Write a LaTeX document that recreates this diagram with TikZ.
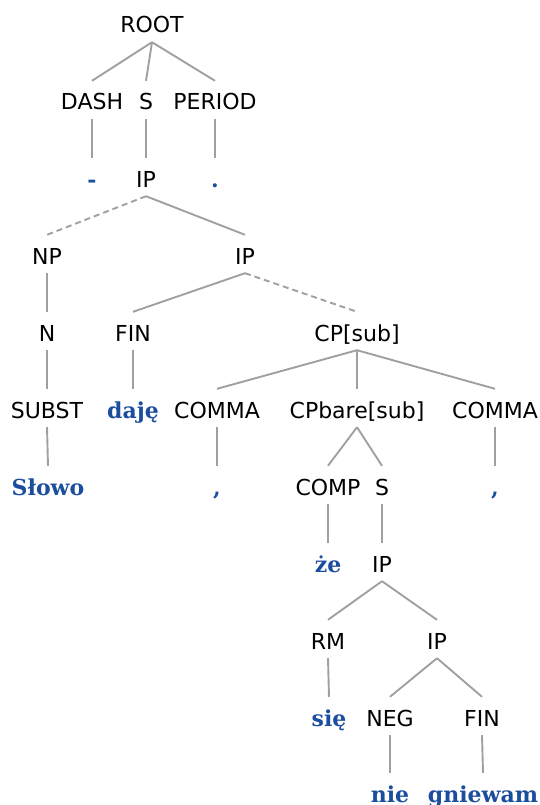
\documentclass[tikz,border=0pt]{standalone}
\usepackage{fontspec}
\usepackage{xcolor}
\usetikzlibrary{positioning}
\newfontfamily\catfont{DejaVu Sans}
\newfontfamily\wordfont{DejaVu Serif}
\definecolor{wordblue}{RGB}{28,78,158}
\definecolor{branchgray}{RGB}{160,160,160}

\begin{document}
\begin{tikzpicture}[
        x=1pt, y=-1pt,
        % Label styles
        catlabel/.style={inner sep=0pt, anchor=base, text height=29pt, text depth=9pt, font=\catfont\fontsize{22}{26}\selectfont},
        wordlabel/.style={catlabel, text=wordblue, font=\wordfont\bfseries\fontsize{22}{26}\selectfont},
        % Line styles
        branch/.style={draw=branchgray, line width=1.9pt},
        dashbranch/.style={branch, dash pattern=on 6pt off 4pt}
    ]
    \useasboundingbox (0,0) rectangle (540,805);

    % --- TOP LEVELS ---
    \node (root) [catlabel] at (152,33) {ROOT};
    \node (dash) [catlabel] at (92,110) {DASH};
    \node (s1) [catlabel] at (146,110) {S};
    \node (period) [catlabel] at (215,110) {PERIOD};
    \node (hyph) [wordlabel] at (92,187) {-};
    \node (ip1) [catlabel] at (146,187) {IP};
    \node (dot) [wordlabel] at (215,187) {.};

    % --- MAIN CLAUSE ---
    \node (np) [catlabel] at (47,264) {NP};
    \node (ip2) [catlabel] at (245,264) {IP};
    \node (n) [catlabel] at (47,341) {N};
    \node (fin1) [catlabel] at (133,341) {FIN};
    \node (cpsub) [catlabel] at (357,341) {CP[sub]};
    \node (subst) [catlabel] at (47,418) {SUBST};
    \node (daje) [wordlabel] at (133,418) {daję};
    \node (comma1) [catlabel] at (217,418) {COMMA};
    \node (cpbare) [catlabel] at (357,418) {CPbare[sub]};
    \node (comma2) [catlabel] at (495,418) {COMMA};
    \node (slowo) [wordlabel] at (48,495) {Słowo};
    \node (cm1) [wordlabel] at (217,495) {,};
    \node (comp) [catlabel] at (328,495) {COMP};
    \node (s2) [catlabel] at (382,495) {S};
    \node (cm2) [wordlabel] at (495,495) {,};

    % --- SUBORDINATE CLAUSE ---
    \node (ze) [wordlabel] at (328,572) {że};
    \node (ip3) [catlabel] at (382,572) {IP};
    \node (rm) [catlabel] at (328,649) {RM};
    \node (ip4) [catlabel] at (437,649) {IP};
    \node (sie) [wordlabel] at (329,726) {się};
    \node (neg) [catlabel] at (390,726) {NEG};
    \node (fin2) [catlabel] at (482,726) {FIN};
    \node (nie) [wordlabel] at (390,802) {nie};
    \node (gniewam) [wordlabel] at (483,802) {gniewam};

    % --- DRAWING THE BRANCHES ---
    \draw [branch] (root.south) -- (dash.north);
    \draw [branch] (root.south) -- (s1.north);
    \draw [branch] (root.south) -- (period.north);
    \draw [branch] (dash.south) -- (hyph.north);
    \draw [branch] (s1.south) -- (ip1.north);
    \draw [branch] (period.south) -- (dot.north);

    \draw [dashbranch] (ip1.south) -- (np.north);
    \draw [branch] (ip1.south) -- (ip2.north);
    \draw [branch] (np.south) -- (n.north);
    \draw [branch] (ip2.south) -- (fin1.north);
    \draw [dashbranch] (ip2.south) -- (cpsub.north);
    \draw [branch] (n.south) -- (subst.north);
    \draw [branch] (fin1.south) -- (daje.north);
    \draw [branch] (cpsub.south) -- (comma1.north);
    \draw [branch] (cpsub.south) -- (cpbare.north);
    \draw [branch] (cpsub.south) -- (comma2.north);
    \draw [branch] (subst.south) -- (slowo.north);
    \draw [branch] (comma1.south) -- (cm1.north);
    \draw [branch] (cpbare.south) -- (comp.north);
    \draw [branch] (cpbare.south) -- (s2.north);
    \draw [branch] (comma2.south) -- (cm2.north);

    \draw [branch] (comp.south) -- (ze.north);
    \draw [branch] (s2.south) -- (ip3.north);
    \draw [branch] (ip3.south) -- (rm.north);
    \draw [branch] (ip3.south) -- (ip4.north);
    \draw [branch] (rm.south) -- (sie.north);
    \draw [branch] (ip4.south) -- (neg.north);
    \draw [branch] (ip4.south) -- (fin2.north);
    \draw [branch] (neg.south) -- (nie.north);
    \draw [branch] (fin2.south) -- (gniewam.north);

    \end{tikzpicture}
\end{document}
